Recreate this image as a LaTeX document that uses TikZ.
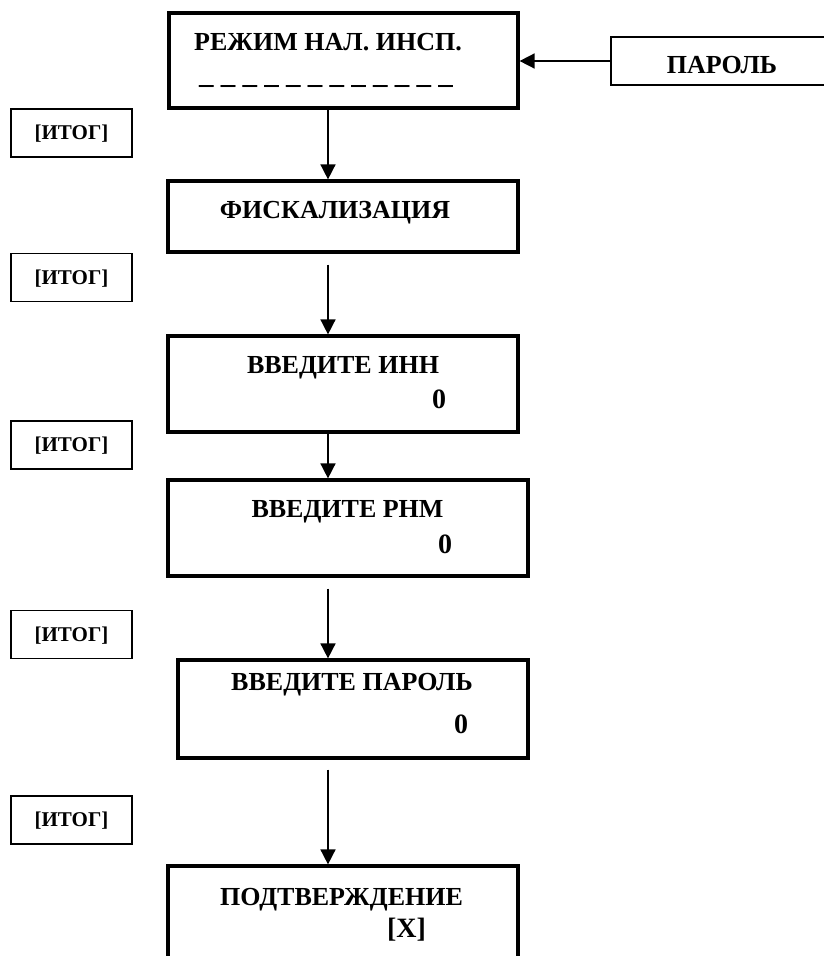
\documentclass[tikz,border=0pt]{standalone}
\usepackage{fontspec}
\setmainfont{Liberation Serif}
\usetikzlibrary{arrows.meta}
\tikzset{
  mainbox/.style={draw, line width=3.2pt, rectangle, inner sep=0pt},
  keybox/.style={draw, line width=1.5pt, rectangle, inner sep=0pt},
  lbl/.style={anchor=base, inner sep=0pt, font=\bfseries\fontsize{26}{26}\selectfont},
  val/.style={anchor=base, inner sep=0pt, font=\bfseries\fontsize{28}{28}\selectfont},
  keytxt/.style={inner sep=0pt, font=\bfseries\fontsize{21}{21}\selectfont},
  arr/.style={line width=1.6pt, -{Triangle[length=15pt,width=15pt]}}
}
\begin{document}
\begin{tikzpicture}[x=1pt,y=-1pt]
\useasboundingbox (0,0) rectangle (823,956);
\coordinate (ax) at (328,0);
% main boxes
\node[mainbox, minimum width=349pt, minimum height=95pt] (b1) at (343.5,60.5) {};
\node[mainbox, minimum width=350pt, minimum height=71pt] (b2) at (343,216.5) {};
\node[mainbox, minimum width=350pt, minimum height=96pt] (b3) at (343,384) {};
\node[mainbox, minimum width=360pt, minimum height=96pt] (b4) at (348,528) {};
\node[mainbox, minimum width=350pt, minimum height=98pt] (b5) at (353,709) {};
\node[mainbox, minimum width=350pt, minimum height=120pt] (b6) at (343,926) {};
% password box
\node[keybox, minimum width=230pt, minimum height=48pt] (pw) at (726,61) {};
\node[lbl] (pwt) at (722,73) {ПАРОЛЬ};
% key boxes
\foreach \i/\yc in {1/133, 2/277.5, 3/445, 4/634.5, 5/820} {
  \node[keybox, minimum width=121pt, minimum height=48pt] (k\i) at (71.5,\yc) {};
  \node[keytxt] (kt\i) at ([yshift=-1pt]k\i.center) {[ИТОГ]};
}
% texts
\node[lbl] (t1) at (328,50) {РЕЖИМ НАЛ. ИНСП.};
\node[anchor=base, inner sep=0pt, font=\bfseries\fontsize{29}{29}\selectfont] (t1d) at (326,83) {\_ \_ \_ \_ \_ \_ \_ \_ \_ \_ \_ \_};
\node[lbl] (t2) at (335,218) {ФИСКАЛИЗАЦИЯ};
\node[lbl] (t3) at (343,373) {ВВЕДИТЕ ИНН};
\node[val] (v3) at (439,408) {0};
\node[lbl] (t4) at (347.5,517) {ВВЕДИТЕ РНМ};
\node[val] (v4) at (445,553) {0};
\node[lbl] (t5) at (352,690) {ВВЕДИТЕ ПАРОЛЬ};
\node[val] (v5) at (461,733) {0};
\node[lbl] (t6) at (341.5,905) {ПОДТВЕРЖДЕНИЕ};
\node[val] (v6) at (406.5,937) {[X]};
% arrows
\draw[arr] (pw.west) -- (b1.east |- pw.west);
\draw[arr] (b1.south -| ax) -- (b2.north -| ax);
\draw[arr] ([yshift=-11pt]b2.south -| ax) -- (b3.north -| ax);
\draw[arr] (b3.south -| ax) -- (b4.north -| ax);
\draw[arr] ([yshift=-11pt]b4.south -| ax) -- (b5.north -| ax);
\draw[arr] ([yshift=-10pt]b5.south -| ax) -- (b6.north -| ax);
\end{tikzpicture}
\end{document}
